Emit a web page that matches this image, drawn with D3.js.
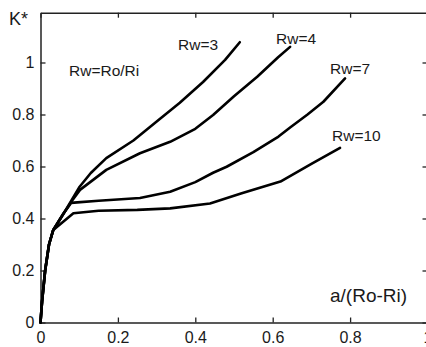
<!DOCTYPE html>
<html>
<head>
<meta charset="utf-8">
<script src="https://cdn.jsdelivr.net/npm/d3@7/dist/d3.min.js"></script>
<style>
  html, body { margin: 0; padding: 0; background: #fff; }
  svg { display: block; }
  text { font-family: "Liberation Sans", Arial, sans-serif; fill: #1a1a1a; }
</style>
</head>
<body>
<svg id="chart" width="426" height="347"></svg>
<script>
// ---- data ----
const xTicks = [0, 0.2, 0.4, 0.6, 0.8, 1];
const yTicks = [0, 0.2, 0.4, 0.6, 0.8, 1];
const xTickLabels = ["0", "0.2", "0.4", "0.6", "0.8", "1"];
const yTickLabels = ["0", "0.2", "0.4", "0.6", "0.8", "1"];

const seriesNames = ["Rw=3", "Rw=4", "Rw=7", "Rw=10"];

const rw3X = [0, 0.004, 0.012, 0.022, 0.033, 0.06, 0.08, 0.1, 0.13, 0.17, 0.24, 0.305, 0.36, 0.42, 0.477, 0.515];
const rw3Y = [0, 0.08, 0.2, 0.3, 0.356, 0.42, 0.47, 0.52, 0.575, 0.632, 0.70, 0.779, 0.845, 0.925, 1.01, 1.078];

const rw4X = [0, 0.004, 0.012, 0.022, 0.033, 0.06, 0.08, 0.102, 0.17, 0.257, 0.335, 0.4, 0.446, 0.5, 0.56, 0.614, 0.645];
const rw4Y = [0, 0.08, 0.2, 0.3, 0.356, 0.42, 0.465, 0.51, 0.587, 0.651, 0.695, 0.745, 0.798, 0.87, 0.945, 1.02, 1.06];

const rw7X = [0, 0.004, 0.012, 0.022, 0.033, 0.06, 0.079, 0.095, 0.15, 0.257, 0.335, 0.4, 0.446, 0.481, 0.55, 0.615, 0.645, 0.69, 0.731, 0.787];
const rw7Y = [0, 0.08, 0.2, 0.3, 0.356, 0.42, 0.46, 0.462, 0.468, 0.479, 0.503, 0.54, 0.576, 0.599, 0.655, 0.715, 0.75, 0.8, 0.849, 0.939];

const rw10X = [0, 0.004, 0.012, 0.022, 0.033, 0.085, 0.15, 0.25, 0.335, 0.438, 0.52, 0.62, 0.7, 0.774];
const rw10Y = [0, 0.08, 0.2, 0.3, 0.356, 0.42, 0.43, 0.433, 0.439, 0.458, 0.497, 0.542, 0.61, 0.672];

const seriesX = [rw3X, rw4X, rw7X, rw10X];
const seriesY = [rw3Y, rw4Y, rw7Y, rw10Y];

// ---- layout ----
const svg = d3.select("#chart");
const plotLeft = 40.5, plotRight = 427.5, plotTop = 12.7, plotBottom = 322.5;

const x = d3.scaleLinear().domain([0, 1]).range([plotLeft, plotRight]);
const y = d3.scaleLinear().domain([0, 1.1915]).range([plotBottom, plotTop]);

svg.append("rect").attr("width", 426).attr("height", 347).attr("fill", "#fff");

const axisColor = "#222";
function styleAxis(g) {
  g.selectAll("path.domain").attr("stroke", axisColor).attr("stroke-width", 1.5);
  g.selectAll(".tick line").attr("stroke", axisColor).attr("stroke-width", 1.3);
  g.selectAll(".tick text").attr("font-size", 16).attr("fill", "#1a1a1a")
    .attr("font-family", '"Liberation Sans", Arial, sans-serif');
}

// bottom
svg.append("g").attr("transform", `translate(0,${plotBottom})`)
  .call(d3.axisBottom(x).tickValues(xTicks).tickFormat((d, i) => xTickLabels[i])
    .tickSizeInner(-5).tickSizeOuter(0).tickPadding(9))
  .call(styleAxis);
// top
svg.append("g").attr("transform", `translate(0,${plotTop})`)
  .call(d3.axisTop(x).tickValues(xTicks).tickFormat("")
    .tickSizeInner(-5).tickSizeOuter(0))
  .call(styleAxis);
// left
svg.append("g").attr("transform", `translate(${plotLeft},0)`)
  .call(d3.axisLeft(y).tickValues(yTicks).tickFormat((d, i) => yTickLabels[i])
    .tickSizeInner(-5).tickSizeOuter(0).tickPadding(6))
  .call(styleAxis);
// right
svg.append("g").attr("transform", `translate(${plotRight},0)`)
  .call(d3.axisRight(y).tickValues(yTicks).tickFormat("")
    .tickSizeInner(-5).tickSizeOuter(0))
  .call(styleAxis);

// ---- curves ----
const line = d3.line().x(d => x(d[0])).y(d => y(d[1]));
seriesX.forEach((xs, i) => {
  const pts = xs.map((v, j) => [v, seriesY[i][j]]);
  svg.append("path").datum(pts)
    .attr("d", line)
    .attr("fill", "none")
    .attr("stroke", "#000")
    .attr("stroke-width", 2.6)
    .attr("stroke-linejoin", "round")
    .attr("stroke-linecap", "round");
});

// ---- annotations ----
const fontFam = '"Liberation Sans", Arial, sans-serif';
function label(txt, px, py, size) {
  svg.append("text").attr("x", px).attr("y", py)
    .attr("font-size", size).attr("font-family", fontFam)
    .text(txt);
}
label("K*", 9, 24.5, 18);
label("Rw=Ro/Ri", 69, 76, 15.5);
label(seriesNames[0], 178, 50, 15.5);
label(seriesNames[1], 276, 43.5, 15.5);
label(seriesNames[2], 330, 74, 15.5);
label(seriesNames[3], 332, 141, 15.5);
label("a/(Ro-Ri)", 330, 302, 19);
</script>
</body>
</html>
